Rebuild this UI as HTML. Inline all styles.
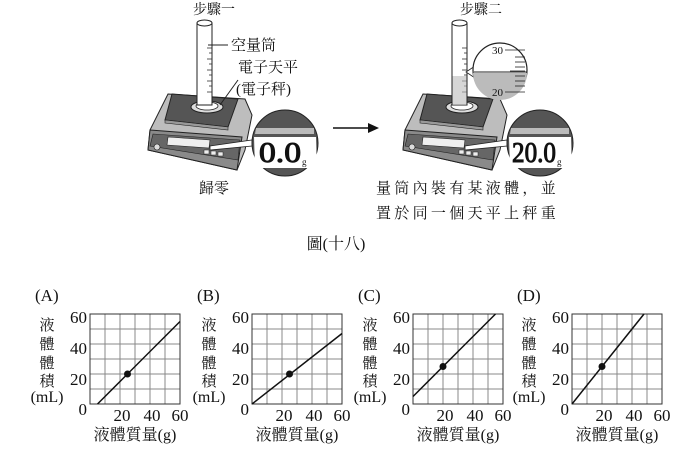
<!DOCTYPE html>
<html><head><meta charset="utf-8"><style>
html,body{margin:0;padding:0;background:#fff;}
svg{display:block;}
text{font-family:"Liberation Serif","Noto Serif CJK SC",serif;fill:#111;}
</style></head><body>
<svg width="697" height="471" viewBox="0 0 697 471" xmlns="http://www.w3.org/2000/svg">
<defs>
<g id="scale">
  <polygon points="168,94 245,99 252,115 245,150 237,170 148,150 150,130" fill="#bdbdbd" stroke="#222" stroke-width="1"/>
  <polygon points="150,130 242,137 237,170 148,150" fill="#8a8a8a" stroke="#222" stroke-width="1"/>
  <polygon points="153,134 240,140 238,160 150,146" fill="#666" stroke="#222" stroke-width="0.6"/>
  <polygon points="168,137 210,140 209,148 167,145" fill="#eee" stroke="#222" stroke-width="0.6"/>
  <circle cx="157" cy="147" r="3" fill="#ddd" stroke="#222" stroke-width="0.6"/>
  <rect x="204" y="150" width="5" height="4" fill="#eee" stroke="#222" stroke-width="0.5"/>
  <rect x="211" y="151" width="5" height="4" fill="#eee" stroke="#222" stroke-width="0.5"/>
  <rect x="218" y="152" width="5" height="4" fill="#eee" stroke="#222" stroke-width="0.5"/>
  <polygon points="172,94 238,99 228,127 165,120" fill="#555" stroke="#222" stroke-width="1"/>
  <polygon points="165,120 228,127 228,130 165,123" fill="#999" stroke="#222" stroke-width="0.6"/>
  <ellipse cx="207" cy="107" rx="16" ry="6" fill="#ddd" stroke="#222" stroke-width="1"/>
  <ellipse cx="207" cy="106" rx="11" ry="4" fill="#fff" stroke="#222" stroke-width="0.8"/>
  <polygon points="210,146 252,140 252,146 210,150" fill="#fff" stroke="#222" stroke-width="0.8"/>
  <circle cx="285" cy="143" r="33" fill="#555" stroke="#222" stroke-width="1"/>
  <path d="M256,128 L314,128 L314,134 L255,134 Z" fill="#bbb"/>
  <path d="M254,137 L316,137 L317,168 L255,168 Z" fill="#fff"/>
</g>
<g id="cyl">
  <rect x="197" y="23" width="15" height="82" fill="#fff" stroke="#222" stroke-width="1"/>
  <ellipse cx="204.5" cy="23" rx="7.5" ry="3" fill="#fff" stroke="#222" stroke-width="1"/>
  <g stroke="#333" stroke-width="0.8">
    <line x1="207" y1="48" x2="212" y2="48"/><line x1="209" y1="53" x2="212" y2="53"/>
    <line x1="207" y1="59" x2="212" y2="59"/><line x1="209" y1="64" x2="212" y2="64"/>
    <line x1="207" y1="70" x2="212" y2="70"/><line x1="209" y1="75" x2="212" y2="75"/>
    <line x1="207" y1="81" x2="212" y2="81"/><line x1="209" y1="86" x2="212" y2="86"/>
    <line x1="207" y1="92" x2="212" y2="92"/>
  </g>
</g>
<g id="grid">
  <g stroke="#888" stroke-width="1">
    <line x1="15" y1="0" x2="15" y2="90"/><line x1="30" y1="0" x2="30" y2="90"/>
    <line x1="45" y1="0" x2="45" y2="90"/><line x1="60" y1="0" x2="60" y2="90"/>
    <line x1="75" y1="0" x2="75" y2="90"/>
    <line x1="0" y1="15" x2="90" y2="15"/><line x1="0" y1="30" x2="90" y2="30"/>
    <line x1="0" y1="45" x2="90" y2="45"/><line x1="0" y1="60" x2="90" y2="60"/>
    <line x1="0" y1="75" x2="90" y2="75"/>
  </g>
  <rect x="0" y="0" width="90" height="90" fill="none" stroke="#333" stroke-width="1"/>
  <g font-size="17" text-anchor="end">
    <text x="-3" y="9">60</text><text x="-3" y="40">40</text>
    <text x="-3" y="71">20</text><text x="-3" y="101">0</text>
  </g>
  <g font-size="17" text-anchor="middle">
    <text x="32" y="107">20</text><text x="62" y="107">40</text><text x="90" y="107">60</text>
  </g>
  <text x="45" y="126" font-size="16" text-anchor="middle">液體質量(g)</text>
  <g font-size="15" text-anchor="middle">
    <text x="-43" y="16">液</text><text x="-43" y="35">體</text>
    <text x="-43" y="54">體</text><text x="-43" y="72">積</text>
    <text x="-43" y="88" font-size="16">(mL)</text>
  </g>
</g>
</defs>

<text x="214" y="14" font-size="14" text-anchor="middle">步驟一</text>
<use href="#scale"/>
<use href="#cyl"/>
<line x1="208" y1="45" x2="228" y2="45" stroke="#222" stroke-width="1"/>
<text x="231" y="50" font-size="15">空量筒</text>
<line x1="220" y1="105" x2="238" y2="80" stroke="#222" stroke-width="1"/>
<text x="238" y="72" font-size="15">電子天平</text>
<text x="236" y="94" font-size="15">(電子秤)</text>
<text x="259" y="162" font-size="28" font-family="Liberation Sans,sans-serif" fill="#fff" stroke="#111" stroke-width="1" textLength="42" lengthAdjust="spacingAndGlyphs">0.0</text>
<text x="302" y="165" font-size="9" font-family="Liberation Sans,sans-serif" fill="#234">g</text>
<text x="214" y="193" font-size="15" text-anchor="middle">歸零</text>

<line x1="333" y1="128" x2="370" y2="128" stroke="#111" stroke-width="1.5"/>
<polygon points="368,123 379,128 368,133" fill="#111"/>

<text x="481" y="14" font-size="14" text-anchor="middle">步驟二</text>
<g transform="translate(255,0)">
  <use href="#scale"/>
  <use href="#cyl"/>
  <rect x="197.5" y="76" width="14" height="29" fill="#bbb" opacity="0.6"/>
</g>
<polygon points="466,72 475,66 475,78" fill="#fff" stroke="#222" stroke-width="0.8"/>
<circle cx="500" cy="70" r="27" fill="#fff" stroke="#222" stroke-width="1.2"/>
<path d="M473,73 A27,27 0 0 0 527,73 Z" fill="#bbb"/>
<line x1="474" y1="72" x2="527" y2="72" stroke="#222" stroke-width="1"/>
<g stroke="#222" stroke-width="0.8">
  <line x1="505" y1="50" x2="525" y2="50"/><line x1="515" y1="57" x2="525" y2="57"/>
  <line x1="515" y1="62" x2="525" y2="62"/><line x1="515" y1="67" x2="525" y2="67"/>
  <line x1="510" y1="71" x2="525" y2="71"/><line x1="515" y1="76" x2="525" y2="76"/>
  <line x1="515" y1="81" x2="525" y2="81"/><line x1="515" y1="86" x2="525" y2="86"/>
  <line x1="505" y1="92" x2="525" y2="92"/>
</g>
<text x="503" y="54" font-size="11" text-anchor="end">30</text>
<text x="503" y="96" font-size="11" text-anchor="end">20</text>
<text x="512" y="162" font-size="28" font-family="Liberation Sans,sans-serif" fill="#fff" stroke="#111" stroke-width="1" textLength="44" lengthAdjust="spacingAndGlyphs">20.0</text>
<text x="557" y="165" font-size="9" font-family="Liberation Sans,sans-serif" fill="#234">g</text>
<text x="376" y="193" font-size="15" letter-spacing="3.3">量筒內裝有某液體，並</text>
<text x="376" y="218" font-size="15" letter-spacing="3.3">置於同一個天平上秤重</text>

<text x="336" y="249" font-size="16" text-anchor="middle">圖(十八)</text>

<g font-size="17">
<text x="35" y="301">(A)</text><text x="197" y="301">(B)</text>
<text x="358" y="301">(C)</text><text x="517" y="301">(D)</text>
</g>
<g transform="translate(90,314)">
  <use href="#grid"/>
  <line x1="7.5" y1="90" x2="90" y2="7.5" stroke="#111" stroke-width="1.5"/>
  <circle cx="37.5" cy="60" r="3.5" fill="#111"/>
</g>
<g transform="translate(252,314)">
  <use href="#grid"/>
  <line x1="0" y1="90" x2="90" y2="19.5" stroke="#111" stroke-width="1.5"/>
  <circle cx="37.5" cy="60" r="3.5" fill="#111"/>
</g>
<g transform="translate(413,314)">
  <use href="#grid"/>
  <line x1="0" y1="82.5" x2="82.5" y2="0" stroke="#111" stroke-width="1.5"/>
  <circle cx="30" cy="52.5" r="3.5" fill="#111"/>
</g>
<g transform="translate(572,314)">
  <use href="#grid"/>
  <line x1="0" y1="90" x2="72" y2="0" stroke="#111" stroke-width="1.5"/>
  <circle cx="30" cy="52.5" r="3.5" fill="#111"/>
</g>
</svg>
</body></html>
